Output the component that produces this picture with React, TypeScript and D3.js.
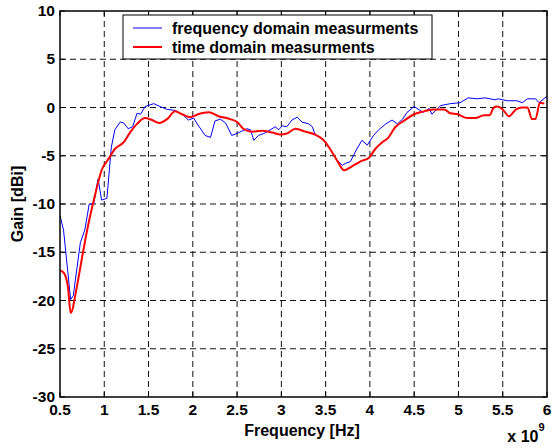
import React from "react";
import * as d3 from "d3";

const blueFreq = [0.50,0.54,0.62,0.65,0.73,0.78,0.83,0.88,0.93,0.97,1.03,1.08,1.12,1.18,1.22,1.27,1.32,1.37,1.41,1.46,1.56,1.63,1.71,1.80,1.88,1.95,2.01,2.05,2.14,2.20,2.25,2.31,2.37,2.44,2.52,2.61,2.65,2.69,2.74,2.80,2.86,2.93,2.97,3.01,3.06,3.12,3.18,3.23,3.31,3.35,3.38,3.44,3.50,3.55,3.63,3.69,3.72,3.78,3.84,3.91,3.97,4.04,4.10,4.18,4.25,4.31,4.37,4.42,4.50,4.60,4.67,4.70,4.80,4.91,5.02,5.11,5.21,5.30,5.41,5.45,5.55,5.66,5.72,5.78,5.87,5.91,5.99,6.00];
const blueGain = [-11.2,-12.7,-19.9,-19.5,-14.0,-12.7,-10.0,-10.0,-7.4,-9.6,-9.4,-4.1,-2.3,-1.5,-1.6,-2.2,-2.0,-0.6,-0.7,0.1,0.4,0.1,-0.2,-0.3,-0.7,-1.3,-1.1,-1.7,-2.9,-3.1,-1.4,-1.2,-1.6,-2.9,-2.6,-2.2,-2.3,-3.4,-2.9,-2.7,-2.4,-2.0,-2.3,-1.9,-2.0,-1.3,-1.0,-1.5,-1.7,-2.0,-2.8,-3.1,-3.6,-4.3,-5.5,-6.0,-5.8,-5.6,-4.5,-3.4,-3.9,-2.9,-2.3,-1.7,-1.3,-1.7,-1.2,-0.5,0.1,-0.5,-0.1,-0.7,0.2,0.4,0.5,1.0,0.9,1.0,0.8,0.9,0.7,0.7,0.5,0.9,0.9,0.5,1.1,1.2];

const redFreq = [0.50,0.54,0.59,0.62,0.69,0.75,0.82,0.90,0.97,1.05,1.12,1.22,1.29,1.37,1.46,1.54,1.62,1.71,1.80,1.88,1.97,2.06,2.18,2.29,2.42,2.50,2.57,2.67,2.78,2.90,2.99,3.06,3.16,3.27,3.38,3.48,3.55,3.63,3.71,3.78,3.89,3.99,4.06,4.14,4.20,4.29,4.38,4.50,4.61,4.72,4.84,4.91,4.99,5.10,5.19,5.29,5.35,5.40,5.44,5.50,5.57,5.65,5.72,5.78,5.83,5.87,5.92,5.97];
const redGain = [-16.9,-17.1,-18.6,-21.3,-18.6,-15.5,-12.1,-8.9,-6.5,-5.3,-4.3,-3.6,-2.6,-1.7,-1.1,-1.3,-1.6,-1.2,-0.4,-0.7,-1.0,-0.7,-0.5,-0.9,-1.2,-1.5,-2.2,-2.5,-2.4,-2.6,-2.8,-2.7,-2.2,-2.5,-2.8,-3.4,-4.3,-5.5,-6.5,-6.2,-5.6,-5.2,-4.3,-3.6,-3.2,-2.0,-1.4,-0.7,-0.4,-0.2,-0.2,-0.6,-0.7,-1.1,-1.1,-0.8,-0.8,0.0,0.1,-0.2,-0.9,-0.2,0.0,0.0,-1.2,-1.2,0.5,0.4];

const xTicks = [0.5,1,1.5,2,2.5,3,3.5,4,4.5,5,5.5,6];
const xTickLabels = ["0.5","1","1.5","2","2.5","3","3.5","4","4.5","5","5.5","6"];
const yTicks = [-30,-25,-20,-15,-10,-5,0,5,10];
const yTickLabels = ["-30","-25","-20","-15","-10","-5","0","5","10"];
const seriesNames = ["frequency domain measurments","time domain measurments"];
const seriesColors = ["#0000ff","#ff0000"];

const W = 552, H = 448;
const L = 60, R = 547, T = 11, B = 397;
const FONT = "'Liberation Sans', Arial, Helvetica, sans-serif";

export default function App() {
  const x = d3.scaleLinear().domain([0.5, 6]).range([L, R]);
  const y = d3.scaleLinear().domain([-30, 10]).range([B, T]);
  const blue = blueFreq.map((f, i) => [f, blueGain[i]] as [number, number]);
  const red = redFreq.map((f, i) => [f, redGain[i]] as [number, number]);
  const lineLin = d3.line<[number, number]>().x(d => x(d[0])).y(d => y(d[1]));
  const lineSmooth = d3.line<[number, number]>().x(d => x(d[0])).y(d => y(d[1])).curve(d3.curveMonotoneX);
  const tk = 5;
  return (
    <svg width={W} height={H} style={{ position: "absolute", left: 0, top: 0, background: "#fff" }} fontFamily={FONT}>
      <rect x={0} y={0} width={W} height={H} fill="#fff" />
      {xTicks.slice(1, -1).map(t => (
        <line key={"gx" + t} x1={x(t)} x2={x(t)} y1={T} y2={B} stroke="#111" strokeWidth={1} strokeDasharray="6,4" />
      ))}
      {yTicks.slice(1, -1).map(t => (
        <line key={"gy" + t} x1={L} x2={R} y1={y(t)} y2={y(t)} stroke="#111" strokeWidth={1} strokeDasharray="6,4" />
      ))}
      {xTicks.map(t => (
        <g key={"tx" + t}>
          <line x1={x(t)} x2={x(t)} y1={B} y2={B - tk} stroke="#000" />
          <line x1={x(t)} x2={x(t)} y1={T} y2={T + tk} stroke="#000" />
        </g>
      ))}
      {yTicks.map(t => (
        <g key={"ty" + t}>
          <line x1={L} x2={L + tk} y1={y(t)} y2={y(t)} stroke="#000" />
          <line x1={R} x2={R - tk} y1={y(t)} y2={y(t)} stroke="#000" />
        </g>
      ))}
      <path d={lineLin(blue) || ""} fill="none" stroke={seriesColors[0]} strokeWidth={1} />
      <path d={lineSmooth(red) || ""} fill="none" stroke={seriesColors[1]} strokeWidth={2} strokeLinejoin="round" />
      <rect x={L} y={T} width={R - L} height={B - T} fill="none" stroke="#000" strokeWidth={1.5} />
      {xTicks.map((t, i) => (
        <text key={"lx" + t} x={x(t)} y={415} textAnchor="middle" fontSize={15.5} fontWeight="bold">{xTickLabels[i]}</text>
      ))}
      {yTicks.map((t, i) => (
        <text key={"ly" + t} x={55} y={y(t) + 5} textAnchor="end" fontSize={15.5} fontWeight="bold">{yTickLabels[i]}</text>
      ))}
      <text x={302} y={436} textAnchor="middle" fontSize={16} fontWeight="bold">Frequency [Hz]</text>
      <text x={526} y={442} textAnchor="middle" fontSize={16} fontWeight="bold">x 10<tspan fontSize={11} dy={-11}>9</tspan></text>
      <text transform={`translate(23,${(T + B) / 2}) rotate(-90)`} textAnchor="middle" fontSize={16} fontWeight="bold">Gain [dBi]</text>
      <rect x={123} y={15} width={309} height={44} fill="#fff" stroke="#000" strokeWidth={1} />
      {seriesNames.map((n, i) => (
        <g key={n}>
          <line x1={133} x2={162} y1={28 + i * 19} y2={28 + i * 19} stroke={seriesColors[i]} strokeWidth={i === 0 ? 1 : 2} />
          <text x={172} y={34 + i * 19} fontSize={16} fontWeight="bold">{n}</text>
        </g>
      ))}
    </svg>
  );
}
